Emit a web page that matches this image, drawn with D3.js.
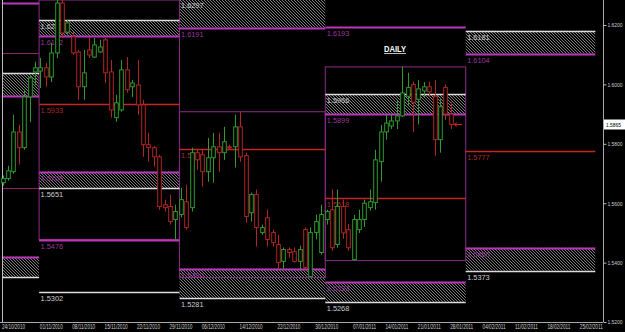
<!DOCTYPE html>
<html><head><meta charset="utf-8">
<script src="https://cdn.jsdelivr.net/npm/d3@7"></script>
<style>body{margin:0;background:#000;overflow:hidden}svg{display:block}</style>
</head><body><svg id="c" width="625" height="332"></svg>
<script>
// ---------- DATA ----------
const barDates = ["24/10","25/10","26/10","27/10","28/10","29/10","31/10",
"01/11","02/11","03/11","04/11","05/11","07/11","08/11","09/11","10/11","11/11","12/11","14/11","15/11","16/11","17/11","18/11","19/11","21/11","22/11","23/11","24/11","25/11","26/11","28/11","29/11","30/11",
"01/12","02/12","03/12","05/12","06/12","07/12","08/12","09/12","10/12","12/12","13/12","14/12","15/12","16/12","17/12","19/12","20/12","21/12","22/12","23/12","24/12","26/12","27/12","28/12","29/12","30/12","31/12",
"02/01","03/01","04/01","05/01","06/01","07/01","09/01","10/01","11/01","12/01","13/01","14/01","16/01","17/01","18/01","19/01","20/01","21/01","23/01","24/01","25/01","26/01","27/01","28/01"];
const open  = [1.5669,1.5683,1.5706,1.5840,1.5787,1.5958,1.6042, 1.6045,1.6056,1.6025,1.6106,1.6274,1.6176,1.6160,1.6109,1.5992,1.6116,1.6092,1.6109,1.6150,1.6042,1.5888,1.5914,1.6049,1.5992,1.5998,1.5931,1.5797,1.5787,1.5756,1.5595,1.5589,1.5545,
1.5562,1.5605,1.5585,1.5770,1.5763,1.5706,1.5753,1.5790,1.5770,1.5790,1.5790,1.5857,1.5760,1.5568,1.5629,1.5501,1.5551,1.5501,1.5461,1.5404,1.5444,1.5437,1.5404,1.5511,1.5353,1.5501,1.5434,
1.5545,1.5578,1.5461,1.5589,1.5511,1.5410,1.5511,1.5545,1.5585,1.5602,1.5740,1.5840,1.5860,1.5877,1.5894,1.5960,1.6000,1.5950,1.5978,1.5992,1.5960,1.5814,1.5990,1.5900];
const high  = [1.5693,1.5726,1.5898,1.5864,1.5982,1.6029,1.6076, 1.6089,1.6072,1.6140,1.6284,1.6284,1.6217,1.6176,1.6116,1.6116,1.6160,1.6156,1.6150,1.6156,1.6082,1.5965,1.6082,1.6092,1.6015,1.6082,1.5948,1.5837,1.5793,1.5763,1.5612,1.5629,1.5595,
1.5652,1.5662,1.5787,1.5780,1.5780,1.5820,1.5837,1.5837,1.5857,1.5797,1.5898,1.5908,1.5770,1.5636,1.5646,1.5528,1.5578,1.5511,1.5494,1.5451,1.5451,1.5451,1.5457,1.5518,1.5518,1.5562,1.5595,
1.5578,1.5646,1.5646,1.5612,1.5530,1.5560,1.5578,1.5612,1.5646,1.5780,1.5864,1.5898,1.5898,1.5948,1.6059,1.6039,1.6010,1.6015,1.6008,1.6010,1.6015,1.5950,1.6000,1.5940];
const low   = [1.5659,1.5676,1.5699,1.5730,1.5780,1.5874,1.5998, 1.5988,1.5992,1.6008,1.6089,1.6156,1.6166,1.6099,1.5948,1.5948,1.6089,1.6089,1.6106,1.6005,1.5888,1.5874,1.5908,1.5972,1.5958,1.5898,1.5756,1.5740,1.5723,1.5578,1.5572,1.5528,1.5478,
1.5552,1.5511,1.5572,1.5713,1.5656,1.5672,1.5669,1.5706,1.5746,1.5780,1.5720,1.5740,1.5535,1.5538,1.5454,1.5494,1.5454,1.5454,1.5377,1.5377,1.5417,1.5400,1.5377,1.5377,1.5350,1.5478,1.5427,
1.5528,1.5440,1.5450,1.5480,1.5440,1.5407,1.5500,1.5520,1.5575,1.5578,1.5672,1.5814,1.5850,1.5850,1.5890,1.5930,1.5840,1.5865,1.5958,1.5960,1.5760,1.5770,1.5880,1.5850];
const close = [1.5683,1.5709,1.5840,1.5787,1.5958,1.6022,1.6056, 1.6056,1.6025,1.6106,1.6274,1.6173,1.6207,1.6106,1.5992,1.6039,1.6099,1.6133,1.6126,1.6039,1.5914,1.5938,1.6049,1.5982,1.6005,1.5931,1.5797,1.5787,1.5756,1.5589,1.5585,1.5538,1.5572,
1.5612,1.5518,1.5770,1.5746,1.5706,1.5753,1.5790,1.5770,1.5807,1.5787,1.5857,1.5756,1.5555,1.5629,1.5518,1.5518,1.5478,1.5467,1.5400,1.5444,1.5434,1.5404,1.5444,1.5384,1.5501,1.5538,1.5562,
1.5572,1.5450,1.5589,1.5500,1.5450,1.5545,1.5545,1.5600,1.5605,1.5746,1.5840,1.5870,1.5877,1.5894,1.5971,1.5990,1.5940,1.5985,1.5992,1.5975,1.5814,1.5925,1.5900,1.5865];

const axisDates = ["24/10/2010","01/11/2010","08/11/2010","15/11/2010","22/11/2010","29/11/2010","06/12/2010","14/12/2010","22/12/2010","30/12/2010","07/01/2011","14/01/2011","21/01/2011","28/01/2011","04/02/2011","11/02/2011","18/02/2011","25/02/2011"];
const axisDateBar = [0,7,13,19,25,31,37,44,51,58,65,71,77,83,89,95,101,107];
const priceTicks = [1.62,1.60,1.58,1.56,1.54,1.52];
const lastPrice = 1.5865;

// monthly periods (bar index of start / end)
const periodStart = [-10,7,33,60,86];
const periodEnd   = [7,33,60,86,110];
const periodShowLabels = [false,true,true,true,true];
const periodHasBox = [false,true,true,true,false];

// pivot levels
const levelPeriod = [0,0,0,0,0,0,0, 1,1,1,1,1,1,1, 2,2,2,2,2, 3,3,3,3,3,3, 4,4,4,4,4];
const levelPrice  = [1.6274,1.6106,1.6039,1.5961,1.5652,1.5420,1.5350,
  1.6217,1.6162,1.5933,1.5706,1.5651,1.5476,1.5302,
  1.6297,1.6191,1.5784,1.5380,1.5281,
  1.6193,1.5966,1.5899,1.5618,1.5333,1.5268,
  1.6181,1.6104,1.5777,1.5450,1.5373];
const levelKind   = ["m","b","w","m","b","m","w",
  "w","m","r","m","w","m","w",
  "w","m","r","m","w",
  "m","w","m","r","m","w",
  "w","m","r","m","w"];

// hatched zones
const zonePeriod = [0,0,1,1,2,2,3,3,4,4];
const zoneTop    = [1.6039,1.5420,1.6217,1.5706,1.6297,1.5380,1.5966,1.5333,1.6181,1.5450];
const zoneBottom = [1.5961,1.5350,1.6162,1.5651,1.6191,1.5281,1.5899,1.5268,1.6104,1.5373];

// ---------- DRAW ----------
const FONT = "Liberation Sans, Arial, sans-serif";
const svg = d3.select("#c");
const plotR = 603, plotB = 322;
const x = d3.scaleLinear().domain([0,111]).range([2.5, 2.5+5.4*111]);
const y = d3.scaleLinear().domain([1.52,1.62]).range([322,25]);
const px = i => Math.max(2, x(i) - 1.2);

svg.append("rect").attr("width",625).attr("height",332).attr("fill","#000");
const defs = svg.append("defs");
const pat = defs.append("pattern").attr("id","hatch").attr("width",3).attr("height",3).attr("patternUnits","userSpaceOnUse");
pat.append("rect").attr("width",3).attr("height",3).attr("fill","#000");
pat.append("path").attr("d","M-1,-1L4,4M-1,2L1,4M2,-1L4,1").attr("stroke","#8c8c8c").attr("stroke-width",0.9);
defs.append("clipPath").attr("id","plot").append("rect").attr("x",0).attr("y",0).attr("width",plotR).attr("height",plotB);

const g = svg.append("g").attr("clip-path","url(#plot)");

const style = {
  w:{stroke:"#dcdcdc",width:1.4,label:"#cfcfcf"},
  m:{stroke:"#bb36bb",width:2,label:"#9a389a"},
  r:{stroke:"#c42626",width:1.4,label:"#a82a2a"},
  b:{stroke:"#8e2262",width:1.2,label:"#8e2262"}
};

// zones
zonePeriod.forEach((p,i)=>{
  g.append("rect").attr("x",px(periodStart[p])).attr("width",px(periodEnd[p])-px(periodStart[p]))
   .attr("y",y(zoneTop[i])).attr("height",y(zoneBottom[i])-y(zoneTop[i])).attr("fill","url(#hatch)");
});

// boxes (month range)
periodStart.forEach((s,p)=>{
  if(!periodHasBox[p]) return;
  let hi=-1, lo=9;
  for(let i=Math.max(0,s);i<Math.min(periodEnd[p],close.length);i++){hi=Math.max(hi,high[i]);lo=Math.min(lo,low[i]);}
  g.append("rect").attr("x",px(s)).attr("width",px(periodEnd[p])-px(s))
   .attr("y",y(hi)).attr("height",y(lo)-y(hi)).attr("fill","none")
   .attr("stroke","#7e2a7a").attr("stroke-width",1.1);
});

// level lines + labels
levelPeriod.forEach((p,i)=>{
  const st = style[levelKind[i]];
  const yy = Math.round(y(levelPrice[i]))+0.5;
  g.append("line").attr("x1",px(periodStart[p])).attr("x2",px(periodEnd[p]))
   .attr("y1",yy).attr("y2",yy).attr("stroke",st.stroke).attr("stroke-width",st.width);
  if(periodShowLabels[p]){
    g.append("text").attr("x",px(periodStart[p])+1.5).attr("y",Math.max(8,yy+8))
     .attr("fill",st.label).attr("font-family",FONT).attr("font-size",8)
     .attr("textLength",22.5).attr("lengthAdjust","spacingAndGlyphs")
     .text(levelPrice[i].toFixed(4));
  }
});

// left border
g.append("line").attr("x1",2.5).attr("x2",2.5).attr("y1",0).attr("y2",plotB).attr("stroke","#bdbdbd").attr("stroke-width",1);

// candles
const up="#2f9a2f", dn="#b02626", dj="#c8b040";
const bars = g.append("g");
close.forEach((c,i)=>{
  const o=open[i], col = Math.abs(c-o)<0.0002 ? dj : (c>o?up:dn);
  const cx = Math.round(x(i))+0.5;
  bars.append("line").attr("x1",cx).attr("x2",cx).attr("y1",y(high[i])).attr("y2",y(low[i])).attr("stroke",col).attr("stroke-width",1);
  const t=y(Math.max(o,c)), b=y(Math.min(o,c));
  bars.append("rect").attr("x",cx-1.8).attr("width",3.6).attr("y",t).attr("height",Math.max(1,b-t))
    .attr("fill","#000").attr("stroke",col).attr("stroke-width",1);
});

// last price arrow
const ly = Math.round(y(lastPrice))+0.5, lx = x(close.length-1)+3.5;
g.append("path").attr("d",`M${lx},${ly}L${lx+8},${ly}M${lx},${ly}L${lx+3},${ly-2}M${lx},${ly}L${lx+3},${ly+2}`)
 .attr("stroke","#d02020").attr("stroke-width",1).attr("fill","none");

// DAILY
svg.append("text").attr("x",384).attr("y",52).attr("fill","#fff").attr("font-weight","bold")
  .attr("font-family",FONT).attr("font-size",9).attr("textLength",22).attr("lengthAdjust","spacingAndGlyphs").text("DAILY");
svg.append("line").attr("x1",384).attr("x2",406).attr("y1",53.5).attr("y2",53.5).attr("stroke","#bbb").attr("stroke-width",1);

// right price axis
const ya = d3.axisRight(y).tickValues(priceTicks).tickFormat(d3.format(".4f")).tickSize(3).tickPadding(1);
const yg = svg.append("g").attr("transform",`translate(${plotR+0.5},0)`).call(ya);
yg.select(".domain").attr("stroke","#a8a8a8").attr("d",`M0,0V${plotB}`);
yg.selectAll(".tick line").attr("stroke","#bbb");
yg.selectAll(".tick text").attr("fill","#cfcfcf").attr("font-size",6).attr("font-family",FONT)
  .attr("textLength",15).attr("lengthAdjust","spacingAndGlyphs");

// current price box
svg.append("rect").attr("x",plotR+1).attr("y",ly-5).attr("width",21).attr("height",10).attr("fill","#fff");
svg.append("text").attr("x",plotR+3).attr("y",ly+2.5).attr("fill","#000").attr("font-size",6)
  .attr("font-family",FONT).attr("textLength",15).attr("lengthAdjust","spacingAndGlyphs").text(lastPrice.toFixed(4));

// bottom date axis
const xa = d3.axisBottom(x).tickValues(axisDateBar).tickFormat((d,i)=>axisDates[i]).tickSize(0).tickPadding(2);
const xg = svg.append("g").attr("transform",`translate(0,${plotB+0.5})`).call(xa);
xg.select(".domain").attr("stroke","#a8a8a8").attr("d",`M0,0H${plotR}`);
xg.selectAll(".tick text").attr("fill","#cfcfcf").attr("font-size",6.5).attr("text-anchor","start").attr("dx",-1)
  .attr("font-family",FONT).attr("textLength",23).attr("lengthAdjust","spacingAndGlyphs");
</script></body></html>
